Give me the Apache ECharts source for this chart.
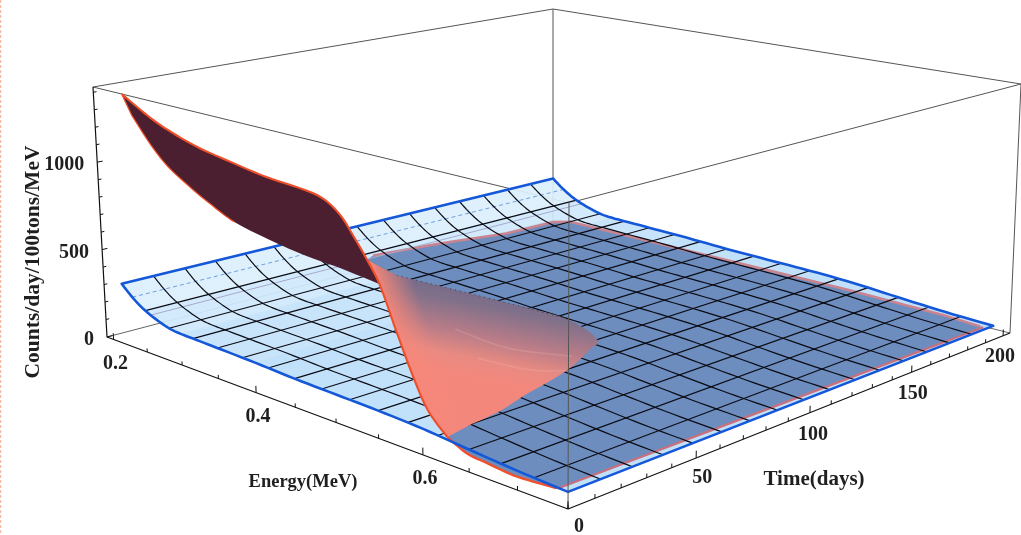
<!DOCTYPE html>
<html><head><meta charset="utf-8">
<style>html,body{margin:0;padding:0;background:#fff}#c{width:1021px;height:535px}</style>
<script src="https://cdn.jsdelivr.net/npm/echarts@6/dist/echarts.min.js"></script>
</head><body><div id="c"></div>
<script>
// ---------- axis data ----------
const energyRange = [0.19, 0.75];
const timeRange = [0, 204];
const countMax = 1430;
const energyTicks = [0.2,0.25,0.3,0.35,0.4,0.45,0.5,0.55,0.6,0.65,0.7,0.75];
const energyLabels = [0.2,0.4,0.6];
const timeTicks = [0,10,20,30,40,50,60,70,80,90,100,110,120,130,140,150,160,170,180,190,200];
const timeLabels = [0,50,100,150,200];
const countTicks = [0,100,200,300,400,500,600,700,800,900,1000,1100,1200,1300,1400];
const countLabels = [0,500,1000];
// ---------- blue surface (does not vary with time) ----------
const blueEnergies = [0.217,0.222,0.23,0.24,0.25,0.265,0.2836,0.3,0.3169,0.35,0.4,0.45,0.5,0.55,0.6,0.65,0.7,0.75];
const blueCounts   = [340,320,290,258,233,205,180,172,170,166,160,150,145,140,130,110,92,80];
const blueTimeEnd = 194;
const meshEnergies = [0.2503,0.2836,0.3169,0.3503,0.3836,0.4169,0.4502,0.4835,0.5168,0.5501,0.5834,0.6167,0.6501,0.6834,0.7167];
const meshTimes = [12.1,24.3,36.4,48.5,60.6,72.8,84.9,97,109.1,121.3,133.4,145.5,157.6,169.8,181.9];
const blueStreakEnergies = [0.232,0.258];
// ---------- red surface: edge at time zero ----------
const redEdgeEnergies = [0.232,0.27,0.301,0.337,0.38,0.423,0.463,0.49,0.511,0.527,0.541,0.555,0.571,0.589,0.606,0.627,0.648,0.669,0.696,0.723,0.739];
const redEdgeCounts   = [1430,1338,1283,1237,1204,1175,1164,1144,1081,984,890,781,592,389,232,133,87,76,64,71,78];
// lower rim of the dark sheet
const foldEnergies = [0.217,0.217,0.217,0.217,0.217,0.217,0.265,0.31,0.364,0.412];
const foldTimes    = [6.9,13.5,19.5,26.9,34.5,44.7,44.7,44.7,44.7,44.7];
const foldCounts   = [1277,1086,945,813,690,540,497,468,452,430];
// where the red sheet dips below the blue one
const rimEnergies = [0.619,0.614,0.603,0.584,0.56,0.5465,0.489,0.417,0.282];
const rimTimes    = [12,24.2,37.2,62.4,81.6,90,98.6,97.8,94];
const rimCounts   = [130,130,130,130,130,130,130,130,130];
// pale streaks on the sheet
const streakOneEnergies = [0.44,0.509,0.562];
const streakOneTimes    = [67,65,73];
const streakTwoEnergies = [0.51,0.56,0.584];
const streakTwoTimes    = [52,55,62];
const streakCount = 130;
// red surface edges under the blue one
const redFarEnergies = [0.737,0.703,0.594,0.5,0.4,0.3,0.2417];
const redFarCounts   = [58,70,81,81,80,80,80];
const redFarTime = 194;
const redBackEnergy = 0.217;
const redBackTimes  = [194,169,135.6,104];
const redBackCounts = [50,56,103,136];
const redNearEnergy = 0.74;
const redNearTimes  = [0,97,194];
const redNearCounts = [78,68,58];

// ---------- picture geometry ----------
const bottomQuad=[[107,337],[568,509],[1010,333],[553,220]];
const topQuad=[[93,87],[569,203],[1021,84],[553,9]];
const timeLabelNudge=[[11,18],[6,20],[3,22],[1,22],[-3,21]];
function homography(q){
  const [p0,p1,p2,p3]=q;
  const dx1=p1[0]-p2[0],dx2=p3[0]-p2[0],sx=p0[0]-p1[0]+p2[0]-p3[0];
  const dy1=p1[1]-p2[1],dy2=p3[1]-p2[1],sy=p0[1]-p1[1]+p2[1]-p3[1];
  const den=dx1*dy2-dx2*dy1;
  const g=(sx*dy2-dx2*sy)/den,h=(dx1*sy-sx*dy1)/den;
  const a=p1[0]-p0[0]+g*p1[0],b=p3[0]-p0[0]+h*p3[0],c=p0[0];
  const d=p1[1]-p0[1]+g*p1[1],e=p3[1]-p0[1]+h*p3[1],f=p0[1];
  return (u,v)=>{const w=g*u+h*v+1;return [(a*u+b*v+c)/w,(d*u+e*v+f)/w];};
}
const hBottom=homography(bottomQuad),hTop=homography(topQuad);
function project(api,r,E,T,c){
  const pt=api.coord([E,T]);
  const u=(pt[0]-r.x)/r.width,v=(r.y+r.height-pt[1])/r.height,w=c/countMax;
  const A=hBottom(u,v),B=hTop(u,v);
  return [A[0]+(B[0]-A[0])*w,A[1]+(B[1]-A[1])*w];
}
function blueAt(E){
  for(let i=1;i<blueEnergies.length;i++) if(E<=blueEnergies[i]){
    const t=(E-blueEnergies[i-1])/(blueEnergies[i]-blueEnergies[i-1]);
    return blueCounts[i-1]+(blueCounts[i]-blueCounts[i-1])*t;
  }
  return blueCounts[blueCounts.length-1];
}
// rounds a polyline of already-projected points for drawing
function rounded(pts,steps){
  steps=steps||6;
  const out=[];
  for(let i=0;i<pts.length-1;i++){
    const p0=pts[Math.max(0,i-1)],p1=pts[i],p2=pts[i+1],p3=pts[Math.min(pts.length-1,i+2)];
    for(let s=0;s<steps;s++){
      const t=s/steps,t2=t*t,t3=t2*t;
      out.push([0,1].map(k=>0.5*(2*p1[k]+(p2[k]-p0[k])*t+(2*p0[k]-5*p1[k]+4*p2[k]-p3[k])*t2+(3*p1[k]-p0[k]-3*p2[k]+p3[k])*t3)));
    }
  }
  out.push(pts[pts.length-1]);
  return out;
}
const line=(points,stroke,lineWidth,extra)=>({type:'polyline',shape:{points},style:Object.assign({fill:null,stroke,lineWidth,lineJoin:'round'},extra||{})});
const poly=(points,fill,extra)=>({type:'polygon',shape:{points},style:Object.assign({fill,stroke:null},extra||{})});
const FONT='bold 20px "Liberation Serif"';
const text=(p,str,align)=>({type:'text',x:p[0],y:p[1],style:{text:String(str),font:FONT,fill:'#1f1f1f',align:align||'center',verticalAlign:'middle',textAlign:align||'center',textVerticalAlign:'middle'}});
let zOrder=1;
function layer(rows,draw){
  return {type:'custom',coordinateSystem:'cartesian2d',xAxisIndex:0,yAxisIndex:0,data:rows,silent:true,animation:false,clip:false,z:zOrder++,
    renderItem:(params,api)=>({type:'group',children:draw(rows[params.dataIndex],(E,T,c)=>project(api,params.coordSys,E,T,c),params.dataIndex)})};
}
const Eo=energyRange[0],E1=energyRange[1],T1=timeRange[1];
const one=[[Eo,0]];
const t0Points=(P,a,b)=>rounded(redEdgeEnergies.slice(a,b).map((E,i)=>P(E,0,redEdgeCounts[a+i])));
const blueRows=blueEnergies.slice(0,-1).map((E,i)=>[E,blueEnergies[i+1],blueCounts[i],blueCounts[i+1]]);
const blueFill=E=>E<0.25?'#dceffc':E<0.3?'#cfe8fb':E<0.4?'#c4e2fa':'#bcdef9';

const series=[
 // rear box lines
 layer(one,(r,P)=>[
   line([P(Eo,0,0),P(Eo,T1,0),P(E1,T1,0)],'#666',1),
   line([P(Eo,T1,0),P(Eo,T1,countMax)],'#555',1),
   line([P(Eo,0,countMax),P(Eo,T1,countMax),P(E1,T1,countMax),P(E1,0,countMax),P(Eo,0,countMax)],'#555',1),
   line([P(E1,T1,0),P(E1,T1,countMax)],'#555',1)
 ]),
 // blue surface fill
 layer(blueRows,(r,P)=>[poly([P(r[0],0,r[2]),P(r[1],0,r[3]),P(r[1],blueTimeEnd,r[3]),P(r[0],blueTimeEnd,r[2])],blueFill(r[0]),{stroke:blueFill(r[0]),lineWidth:0.5,opacity:0.93})]),
 // red surface below the blue one
 layer(one,(r,P)=>{
   const near=redNearTimes.map((T,i)=>P(redNearEnergy,T,redNearCounts[i]));
   const far=redFarEnergies.map((E,i)=>P(E,redFarTime,redFarCounts[i]));
   const back=redBackTimes.map((T,i)=>P(redBackEnergy,T,redBackCounts[i]));
   const outline=far.concat(back);
   return [
     poly(t0Points(P,10,21).concat(near,outline),'#6c8dbe'),
     line(near,'#c9707e',2.2),
     line(outline,'#c98490',2.6),
     line(t0Points(P,15,21),'#f0502c',2.4)
   ];
 }),
 // faint streaks on blue
 layer(blueStreakEnergies.map(E=>[E,0]),(r,P,i)=>[line([P(r[0],0,blueAt(r[0])),P(r[0],blueTimeEnd,blueAt(r[0]))],i?'#a9a9cc':'#6f9fe0',1,i?{}:{lineDash:[4,3]})]),
 // mesh along time
 layer(meshEnergies.map(E=>[E,0]),(r,P)=>[line([P(r[0],0,blueAt(r[0])),P(r[0],blueTimeEnd,blueAt(r[0]))],'#0b0b14',1.2)]),
 // mesh along energy
 layer(meshTimes.map(T=>[Eo,T]),(r,P)=>[line(rounded(blueEnergies.map((E,i)=>P(E,r[1],blueCounts[i]))),'#0b0b14',1.2)]),
 // blue border
 layer(one,(r,P)=>{
   const a=rounded(blueEnergies.map((E,i)=>P(E,0,blueCounts[i])));
   const b=rounded(blueEnergies.map((E,i)=>P(E,blueTimeEnd,blueCounts[i]))).reverse();
   return [poly(a.concat(b),null,{stroke:'#1457d8',lineWidth:2.6,lineJoin:'round'})];
 }),
 // pale sheet
 layer(one,(r,P)=>{
   const rim=rimEnergies.map((E,i)=>P(E,rimTimes[i],rimCounts[i]));
   const shape=t0Points(P,10,16).concat(rounded(rim));
   return [
     poly(shape,new echarts.graphic.LinearGradient(440,372,458,282,[
       {offset:0,color:'#f4877c'},{offset:0.22,color:'#e88a82'},{offset:0.5,color:'#b37b88'},{offset:0.8,color:'#80708a'},{offset:1,color:'#74698a'}],true)),
     poly(shape,new echarts.graphic.LinearGradient(383,305,418,294,[
       {offset:0,color:'rgba(247,135,120,1)'},{offset:1,color:'rgba(247,135,120,0)'}],true)),
     line(rounded(streakOneEnergies.map((E,i)=>P(E,streakOneTimes[i],streakCount))),'rgba(255,225,215,0.15)',1.6),
     line(rounded(streakTwoEnergies.map((E,i)=>P(E,streakTwoTimes[i],streakCount))),'rgba(255,225,215,0.13)',1.6),
     line(rim.slice(6),'#222',1,{lineDash:[1,4],opacity:0.7})
   ];
 }),
 // dark sheet and its outline
 layer(one,(r,P)=>{
   const fold=rounded(foldEnergies.map((E,i)=>P(E,foldTimes[i],foldCounts[i])));
   const upper=t0Points(P,0,12);
   return [
     poly(upper.concat(fold.slice().reverse()),'#4b1f30'),
     line([upper[0]].concat(fold.slice(0,31)),'#e8502a',1.3),
     line(t0Points(P,0,16),'#ee4f2a',2.1)
   ];
 }),
 // front box lines and axis lines
 layer(one,(r,P)=>[
   line([P(E1,0,0),P(E1,0,countMax)],'#555',1),
   line([P(Eo,0,countMax),P(Eo,0,0),P(E1,0,0),P(E1,T1,0)],'#111',1.2)
 ]),
 // ticks
 layer(energyTicks.map(E=>[E,0]),(r,P,i)=>[line([P(r[0],0,0),P(r[0],0,i%4==0?36:20)],'#111',1)]),
 layer(timeTicks.map(T=>[E1,T]),(r,P,i)=>[line([P(E1,r[1],0),P(E1,r[1],i%5==0?36:20)],'#111',1)]),
 layer(countTicks.map(c=>[Eo,c]),(r,P,i)=>[line([P(Eo,0,countTicks[i]),P(Eo,i%5==0?2:1.2,countTicks[i])],'#111',1)]),
 // tick labels
 layer(energyLabels.map(E=>[E,0]),(r,P)=>{const p=P(r[0],0,0);return [text([p[0]+2,p[1]+24],r[0].toFixed(1))];}),
 layer(timeLabels.map(T=>[E1,T]),(r,P,i)=>{const p=P(E1,r[1],0),n=timeLabelNudge[i];return [text([p[0]+n[0],p[1]+n[1]],r[1])];}),
 layer(countLabels.map(c=>[Eo,c]),(r,P,i)=>{const p=P(Eo,0,countLabels[i]);return [text([p[0]-13,p[1]+3],countLabels[i],'right')];})
];
const axisTitle=(x,y,t,rot,size)=>({type:'text',x,y,rotation:rot||0,silent:true,style:{text:t,font:'bold '+size+'px "Liberation Serif"',fill:'#1f1f1f',align:'center',verticalAlign:'middle'}});
const chart=echarts.init(document.getElementById('c'),null,{renderer:'canvas'});
chart.setOption({
  animation:false,backgroundColor:'#ffffff',
  grid:{left:0,right:0,top:0,bottom:0,containLabel:false},
  xAxis:{type:'value',min:energyRange[0],max:energyRange[1],show:false},
  yAxis:{type:'value',min:timeRange[0],max:timeRange[1],show:false},
  graphic:[
    axisTitle(303,482,'Energy(MeV)',0,18.5),
    axisTitle(814,480,'Time(days)',0,21),
    axisTitle(33,262,'Counts/day/100tons/MeV',Math.PI/2,21.5),
    {type:'line',silent:true,shape:{x1:0.5,y1:0,x2:0.5,y2:535},style:{stroke:'#f6b9a6',lineWidth:1.4,lineDash:[3,2]}}
  ],
  series
});
</script></body></html>
